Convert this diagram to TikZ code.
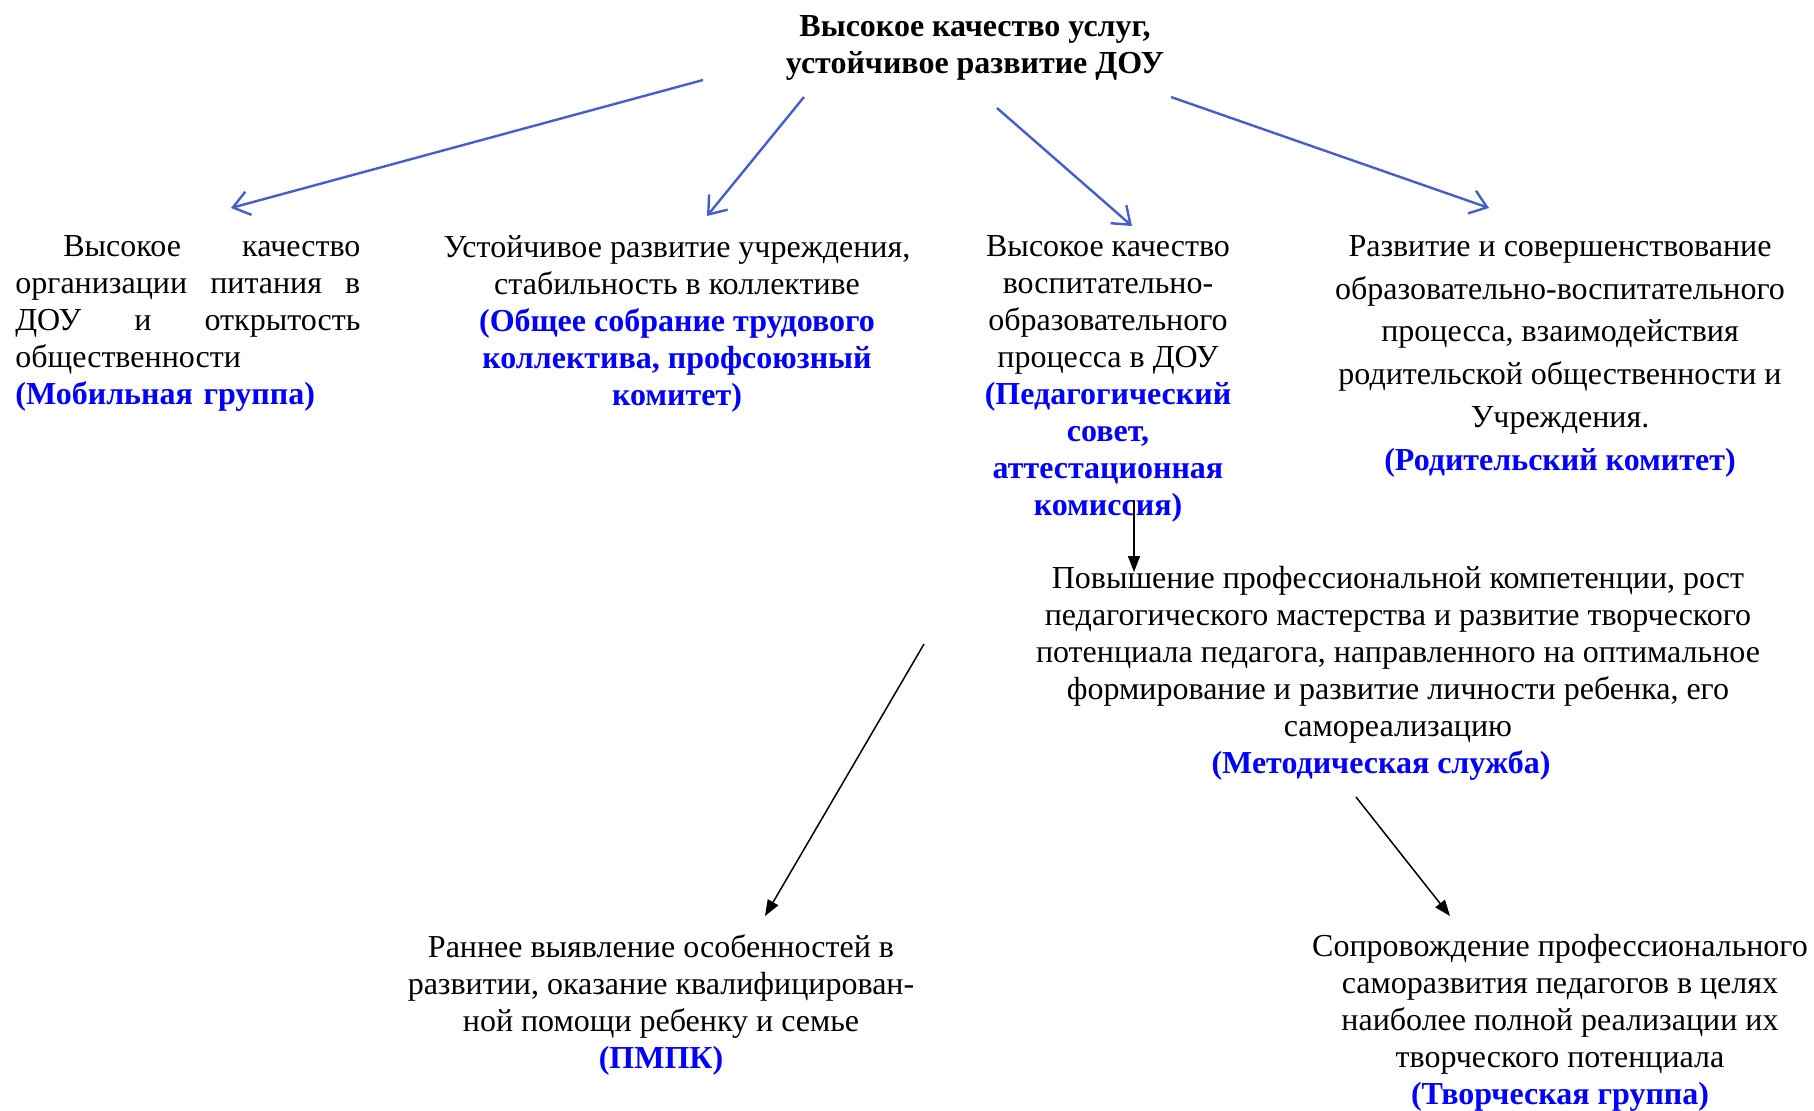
\documentclass[tikz,border=0pt]{standalone}
\usepackage{fontspec}
\setmainfont{Liberation Serif}
\usetikzlibrary{arrows.meta,positioning}
\definecolor{arrowblue}{RGB}{68,94,204}
\definecolor{orgblue}{RGB}{0,0,255}
\newcommand{\orgname}[1]{{\bfseries\color{orgblue}#1}}
\tikzset{
	txt/.style={inner sep=0pt,anchor=north,align=center,font=\fontsize{16}{18.5}\selectfont},
	bluearr/.style={-{Straight Barb[length=8pt,width=12pt]},arrowblue,line width=1.2pt},
	blackarr/.style={-{Triangle[length=8pt,width=6pt]},line width=0.75pt}
}
\begin{document}
\begin{tikzpicture}[x=0.5pt,y=-0.5pt]
	\useasboundingbox (0,0) rectangle (1814,1110);
	% goal
	\node[txt,font=\fontsize{16}{18.5}\selectfont\bfseries] (goal) at (975,15) {Высокое качество услуг,\\устойчивое развитие ДОУ};
	% first row
	\node[txt,anchor=north west,text width=172.5pt,align=left] (food) at (15,235)
		{\hspace*{24pt}Высокое\hfill качество\\организации\hfill питания\hfill в\\ДОУ\hfill и\hfill открытость\\общественности\\\orgname{(Мобильная группа)}};
	\node[txt] (union) at (677,235) {Устойчивое развитие учреждения,\\стабильность в коллективе\\\orgname{(Общее собрание трудового}\\\orgname{коллектива, профсоюзный}\\\orgname{комитет)}};
	\node[txt] (pedsov) at (1108,235) {Высокое качество\\воспитательно-\\образовательного\\процесса в ДОУ\\\orgname{(Педагогический}\\\orgname{совет,}\\\orgname{аттестационная}\\\orgname{комиссия)}};
	\node[txt,font=\fontsize{16}{21.4}\selectfont] (parents) at (1560,235) {Развитие и совершенствование\\образовательно-воспитательного\\процесса, взаимодействия\\родительской общественности и\\Учреждения.\\\orgname{(Родительский комитет)}};
	% methodical service
	\node[txt] (method) at (1398,566) {Повышение профессиональной компетенции, рост\\педагогического мастерства и развитие творческого\\потенциала педагога, направленного на оптимальное\\формирование и развитие личности ребенка, его\\самореализацию\\\orgname{(Методическая служба)}\hspace*{17pt}};
	% bottom row
	\node[txt] (pmpk) at (661,934) {Раннее выявление особенностей в\\развитии, оказание квалифицирован-\\ной помощи ребенку и семье\\\orgname{(ПМПК)}};
	\node[txt] (creative) at (1560,934) {Сопровождение профессионального\\саморазвития педагогов в целях\\наиболее полной реализации их\\творческого потенциала\\\orgname{(Творческая группа)}};
	% arrow ends
	\node[coordinate] (g1) at (703,80) {};
	\node[coordinate] (g2) at (804,97) {};
	\node[coordinate] (g3) at (997,108) {};
	\node[coordinate] (g4) at (1171,97) {};
	\node[coordinate] (f1) at (231,208) {};
	\node[coordinate] (u1) at (707,216) {};
	\node[coordinate] (p1) at (1132,226) {};
	\node[coordinate] (r1) at (1489,208) {};
	\node[coordinate] (p2) at (1134,500) {};
	\node[coordinate] (m1) at (1134,572) {};
	\node[coordinate] (m2) at (924,644) {};
	\node[coordinate] (m3) at (1356,797) {};
	\node[coordinate] (k1) at (765,916) {};
	\node[coordinate] (c1) at (1450,916) {};
	\draw[bluearr] (g1) -- (f1);
	\draw[bluearr] (g2) -- (u1);
	\draw[bluearr] (g3) -- (p1);
	\draw[bluearr] (g4) -- (r1);
	\draw[blackarr] (p2) -- (m1);
	\draw[blackarr] (m2) -- (k1);
	\draw[blackarr] (m3) -- (c1);
\end{tikzpicture}
\end{document}
